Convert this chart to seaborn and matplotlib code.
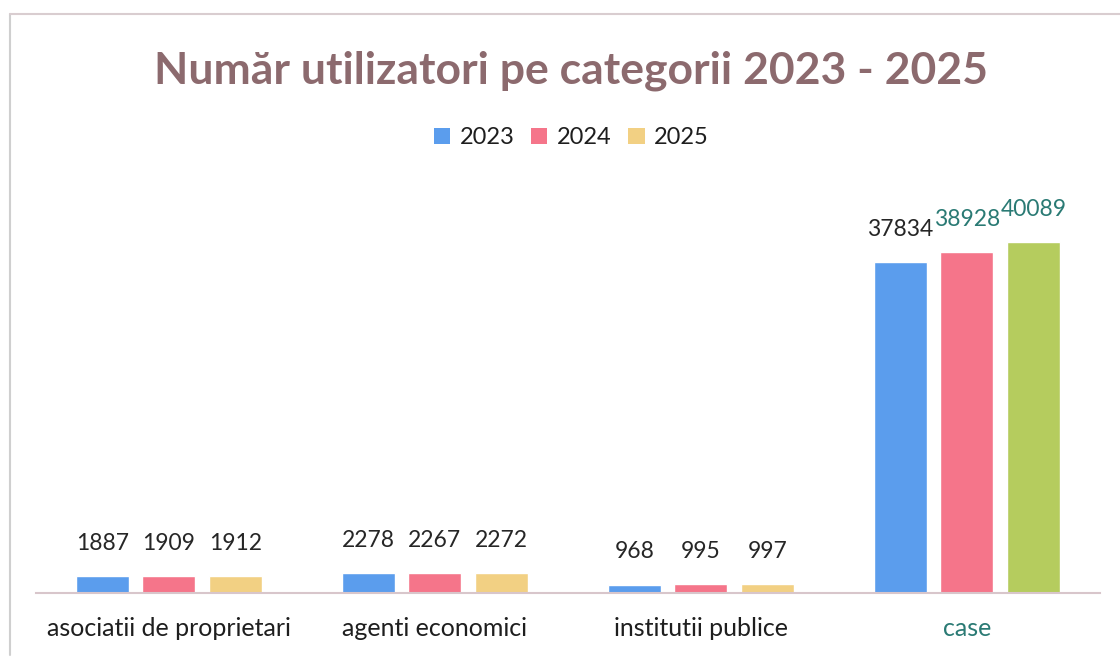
import seaborn as sns
import pandas as pd
import matplotlib.pyplot as plt
from matplotlib.patches import Patch
from matplotlib.lines import Line2D

categories = ["asociatii de proprietari", "agenti economici", "institutii publice", "case"]
years = ["2023", "2024", "2025"]
v2023 = [1887, 2278, 968, 37834]
v2024 = [1909, 2267, 995, 38928]
v2025 = [1912, 2272, 997, 40089]

colors = ["#5b9ded", "#f5758a", "#f2d083"]
case_2025_color = "#b5cc5e"

df = pd.DataFrame({
    "categorie": categories * 3,
    "an": [y for y in years for _ in categories],
    "valoare": v2023 + v2024 + v2025,
})

sns.set_theme(style="white")
plt.rcParams["font.family"] = ["Lato", "DejaVu Sans"]

fig = plt.figure(figsize=(11.2, 6.57), dpi=100)
ax = fig.add_axes([0.032, 0.0974, 0.95, 0.598])

sns.barplot(data=df, x="categorie", y="valoare", hue="an", palette=colors,
            saturation=1, width=0.75, gap=0.2, legend=False, ax=ax)

# the scanned original shows the 2025 "case" bar in green
ax.containers[2][3].set_facecolor(case_2025_color)

for i, cont in enumerate(ax.containers):
    texts = ax.bar_label(cont, padding=16, fontsize=16.5, color="#262626")
    if i > 0:
        texts[3].set_color("#2a7a74")

ax.set_ylim(0, 44900)
ax.set_xlim(-0.5, 3.5)
ax.set_xlabel("")
ax.set_ylabel("")
ax.set_yticks([])
ax.tick_params(axis="x", length=0, pad=17, labelsize=18, labelcolor="#1e1e1e")
ax.get_xticklabels()[3].set_color("#2a7a74")
for s in ["top", "left", "right"]:
    ax.spines[s].set_visible(False)
ax.spines["bottom"].set_color("#d8c6cb")
ax.spines["bottom"].set_linewidth(1.5)

fig.text(0.51, 0.893, "Număr utilizatori pe categorii 2023 - 2025",
         ha="center", va="center", fontsize=32, fontweight="bold", color="#8c6a6e")

handles = [Patch(facecolor=c, edgecolor="none", label=y) for c, y in zip(colors, years)]
fig.legend(handles=handles, loc="center", bbox_to_anchor=(0.51, 0.79), ncol=3,
           frameon=False, fontsize=17, handlelength=0.7, handleheight=0.7,
           handletextpad=0.4, columnspacing=0.7, labelcolor="#1e1e1e")

# faint frame lines from the scanned page
fig.add_artist(Line2D([0.009, 0.009], [0.003, 0.978], color="#cfcfcf", lw=1.5))
fig.add_artist(Line2D([0.009, 1.0], [0.978, 0.978], color="#d9cdd0", lw=1.5))

fig.savefig("out.png", dpi=100, facecolor="white")
